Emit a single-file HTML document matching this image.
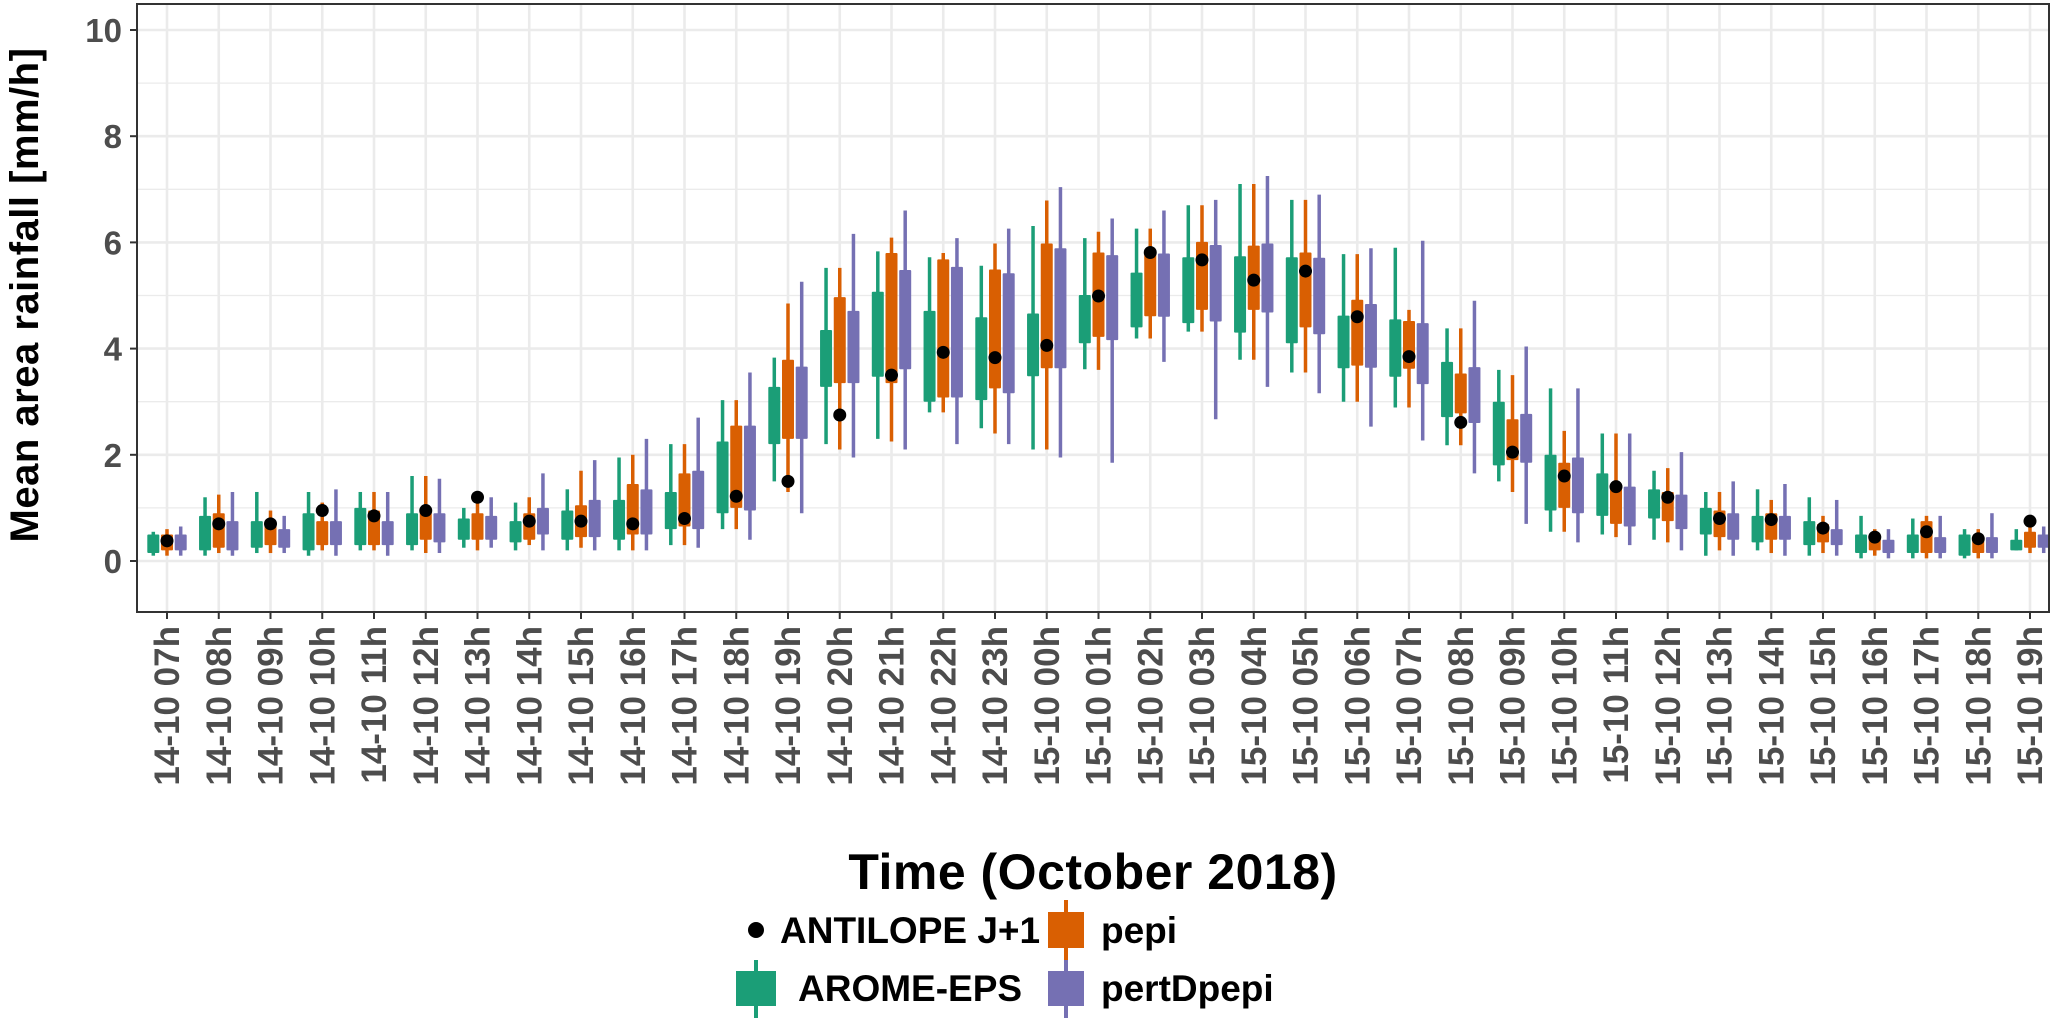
<!DOCTYPE html>
<html><head><meta charset="utf-8"><style>
html,body{margin:0;padding:0;background:#fff}
svg{display:block}
text{font-family:"Liberation Sans",Arial,sans-serif;font-weight:bold}
</style></head><body>
<svg id="chart" width="2067" height="1019" viewBox="0 0 2067 1019" xmlns="http://www.w3.org/2000/svg">
<g id="grid"></g>
<g id="marks"></g>
<rect x="137" y="4" width="1912" height="608" fill="none" stroke="#333" stroke-width="2"/>
<g id="yaxis"></g>
<g id="xaxis"></g>
<text transform="translate(38,295) rotate(-90)" text-anchor="middle" font-size="40" letter-spacing="0.5" fill="#000">Mean area rainfall [mm/h]</text>
<text x="1093" y="889" text-anchor="middle" font-size="50" letter-spacing="0.5" fill="#000">Time (October 2018)</text>
<g>
  <g>
    <circle cx="756" cy="930" r="8" fill="#000"/>
    <text x="780" y="943" font-size="37" fill="#000">ANTILOPE J+1</text>
  </g>
  <g>
    <line x1="1066" y1="900" x2="1066" y2="960" stroke="#d95f02" stroke-width="4"/>
    <rect x="1048" y="912" width="36" height="36" fill="#d95f02"/>
    <text x="1101" y="943" font-size="37" fill="#000">pepi</text>
  </g>
  <g>
    <line x1="756" y1="960" x2="756" y2="1018" stroke="#1b9e77" stroke-width="4"/>
    <rect x="736" y="971" width="40" height="35" fill="#1b9e77"/>
    <text x="798" y="1001" font-size="37" fill="#000">AROME-EPS</text>
  </g>
  <g>
    <line x1="1066" y1="960" x2="1066" y2="1018" stroke="#7570b3" stroke-width="4"/>
    <rect x="1048" y="971" width="36" height="35" fill="#7570b3"/>
    <text x="1101" y="1001" font-size="37" fill="#000">pertDpepi</text>
  </g>
</g>
</svg>
<script>
const categories = ["14-10 07h","14-10 08h","14-10 09h","14-10 10h","14-10 11h","14-10 12h","14-10 13h","14-10 14h","14-10 15h","14-10 16h","14-10 17h","14-10 18h","14-10 19h","14-10 20h","14-10 21h","14-10 22h","14-10 23h","15-10 00h","15-10 01h","15-10 02h","15-10 03h","15-10 04h","15-10 05h","15-10 06h","15-10 07h","15-10 08h","15-10 09h","15-10 10h","15-10 11h","15-10 12h","15-10 13h","15-10 14h","15-10 15h","15-10 16h","15-10 17h","15-10 18h","15-10 19h"];
const yTicks = [0,2,4,6,8,10];
const yTickLabels = ["0","2","4","6","8","10"];
// [lower whisker, q1, q3, upper whisker]
const aromeEPS = [[0.1,0.15,0.5,0.55],[0.1,0.2,0.85,1.2],[0.15,0.25,0.75,1.3],[0.1,0.2,0.9,1.3],[0.2,0.3,1.0,1.3],[0.2,0.3,0.9,1.6],[0.25,0.4,0.8,1.0],[0.2,0.35,0.75,1.1],[0.2,0.4,0.95,1.35],[0.2,0.4,1.15,1.95],[0.3,0.6,1.3,2.2],[0.6,0.9,2.25,3.03],[1.5,2.2,3.28,3.83],[2.2,3.28,4.35,5.52],[2.3,3.47,5.07,5.83],[2.8,3.0,4.71,5.72],[2.5,3.03,4.59,5.56],[2.1,3.48,4.66,6.31],[3.61,4.1,5.01,6.08],[4.19,4.4,5.43,6.26],[4.32,4.48,5.72,6.7],[3.79,4.3,5.74,7.1],[3.55,4.1,5.72,6.8],[3.0,3.63,4.62,5.78],[2.89,3.47,4.55,5.9],[2.18,2.71,3.75,4.38],[1.5,1.8,3.0,3.6],[0.55,0.95,2.0,3.25],[0.5,0.85,1.65,2.4],[0.4,0.8,1.35,1.7],[0.1,0.5,1.0,1.3],[0.2,0.35,0.85,1.35],[0.1,0.3,0.75,1.2],[0.05,0.15,0.5,0.85],[0.05,0.15,0.5,0.8],[0.05,0.1,0.5,0.6],[0.2,0.2,0.4,0.6]];
const pepi = [[0.1,0.2,0.5,0.6],[0.15,0.25,0.9,1.25],[0.15,0.3,0.7,0.95],[0.2,0.3,0.75,1.1],[0.2,0.3,0.95,1.3],[0.15,0.4,1.0,1.6],[0.2,0.4,0.9,1.3],[0.3,0.4,0.9,1.2],[0.25,0.45,1.05,1.7],[0.2,0.5,1.45,2.0],[0.3,0.65,1.65,2.2],[0.6,1.0,2.55,3.03],[1.3,2.3,3.79,4.85],[2.1,3.35,4.97,5.52],[2.25,3.35,5.8,6.09],[2.8,3.08,5.68,5.8],[2.4,3.25,5.49,5.98],[2.1,3.63,5.98,6.79],[3.6,4.22,5.81,6.2],[4.19,4.61,5.85,6.26],[4.32,4.73,6.01,6.7],[3.79,4.73,5.94,7.1],[3.55,4.4,5.81,6.8],[3.0,3.68,4.92,5.78],[2.89,3.62,4.52,4.73],[2.18,2.78,3.53,4.38],[1.3,1.9,2.67,3.5],[0.55,1.0,1.85,2.45],[0.45,0.7,1.45,2.4],[0.35,0.75,1.3,1.75],[0.2,0.45,0.95,1.3],[0.15,0.4,0.9,1.15],[0.15,0.35,0.7,0.85],[0.1,0.2,0.5,0.6],[0.05,0.15,0.75,0.85],[0.05,0.15,0.45,0.6],[0.15,0.25,0.55,0.85]];
const pertDpepi = [[0.1,0.2,0.5,0.65],[0.1,0.2,0.75,1.3],[0.15,0.25,0.6,0.85],[0.1,0.3,0.75,1.35],[0.1,0.3,0.75,1.3],[0.15,0.35,0.9,1.55],[0.25,0.4,0.85,1.2],[0.2,0.5,1.0,1.65],[0.2,0.45,1.15,1.9],[0.2,0.5,1.35,2.3],[0.25,0.6,1.7,2.7],[0.4,0.95,2.55,3.55],[0.9,2.3,3.66,5.26],[1.95,3.35,4.71,6.16],[2.1,3.61,5.48,6.6],[2.2,3.08,5.54,6.08],[2.2,3.16,5.42,6.26],[1.95,3.63,5.89,7.04],[1.85,4.16,5.76,6.45],[3.75,4.6,5.79,6.6],[2.67,4.51,5.95,6.8],[3.28,4.68,5.98,7.25],[3.16,4.27,5.71,6.9],[2.53,3.64,4.84,5.89],[2.27,3.33,4.48,6.03],[1.65,2.6,3.65,4.9],[0.7,1.85,2.77,4.04],[0.35,0.9,1.95,3.25],[0.3,0.65,1.4,2.4],[0.2,0.6,1.25,2.05],[0.1,0.4,0.9,1.5],[0.1,0.4,0.85,1.45],[0.1,0.3,0.6,1.15],[0.05,0.15,0.4,0.6],[0.05,0.15,0.45,0.85],[0.05,0.15,0.45,0.9],[0.15,0.25,0.5,0.65]];
const antilope = [0.38,0.7,0.7,0.95,0.85,0.95,1.2,0.75,0.75,0.7,0.8,1.22,1.5,2.75,3.5,3.93,3.83,4.06,4.99,5.81,5.67,5.29,5.46,4.6,3.85,2.61,2.05,1.6,1.4,1.2,0.8,0.78,0.62,0.45,0.55,0.42,0.75];

const NS = "http://www.w3.org/2000/svg";
const X0 = 167, DX = 51.75, Y0 = 561, DY = 53.1;
function xScale(i){ return X0 + DX * i; }
function yScale(v){ return Y0 - DY * v; }
function mk(tag, attrs, parent){
  const e = document.createElementNS(NS, tag);
  for (const k in attrs) e.setAttribute(k, attrs[k]);
  parent.appendChild(e);
  return e;
}
const grid = document.getElementById('grid');
const marks = document.getElementById('marks');
const yaxis = document.getElementById('yaxis');
const xaxis = document.getElementById('xaxis');
mk('rect', {x:137, y:4, width:1912, height:608, fill:'#fff'}, grid);
for (let v = 1; v <= 11; v += 2) {
  const g = mk('line', {x1:137, x2:2049, y1:yScale(v), y2:yScale(v), stroke:'#ebebeb', 'stroke-width':1.3}, grid);
  
  
}
yTicks.forEach((v, k) => {
  const g = mk('line', {x1:137, x2:2049, y1:yScale(v), y2:yScale(v), stroke:'#ebebeb', 'stroke-width':2.6}, grid);
  
  
  const t = mk('line', {x1:130, x2:137, y1:yScale(v), y2:yScale(v), stroke:'#333', 'stroke-width':2}, yaxis);
  
  
  const l = mk('text', {x:122, y:yScale(v) + 12, 'text-anchor':'end', 'font-size':33, fill:'#4d4d4d'}, yaxis);
  l.textContent = yTickLabels[k];
  
  
});
categories.forEach((c, i) => {
  const x = xScale(i);
  const g = mk('line', {x1:x, x2:x, y1:4, y2:612, stroke:'#ebebeb', 'stroke-width':2.6}, grid);
  
  
  const t = mk('line', {x1:x, x2:x, y1:612, y2:619, stroke:'#333', 'stroke-width':2}, xaxis);
  
  
  const l = mk('text', {transform:'translate(' + (x + 12) + ',626) rotate(-90)', 'text-anchor':'end', 'font-size':35, fill:'#4d4d4d'}, xaxis);
  l.textContent = c;
  
  
});
const series = [[aromeEPS, '#1b9e77', -13.7, 'arome-eps'], [pepi, '#d95f02', 0, 'pepi'], [pertDpepi, '#7570b3', 13.7, 'pertdpepi']];
series.forEach(([data, col, off, nm]) => {
  data.forEach((d, i) => {
    const x = xScale(i) + off;
    const w = mk('line', {x1:x, x2:x, y1:yScale(d[3]), y2:yScale(d[0]), stroke:col, 'stroke-width':3.5}, marks);
    
    
    const b = mk('rect', {x:x - 6, y:yScale(d[2]), width:12, height:Math.max(1, yScale(d[1]) - yScale(d[2])), fill:col, rx:1}, marks);
    
    
  });
});
antilope.forEach((v, i) => {
  const p = mk('circle', {cx:xScale(i), cy:yScale(v), r:6.5, fill:'#000'}, marks);
  
  
});
</script>
</body></html>
